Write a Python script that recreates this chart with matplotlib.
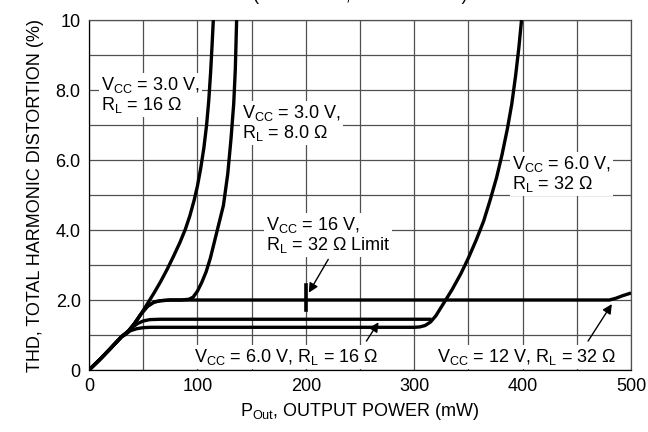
import matplotlib
matplotlib.use("Agg")
import matplotlib.pyplot as plt

plt.rcParams['font.family'] = ['Liberation Sans', 'DejaVu Sans']
plt.rcParams['mathtext.fontset'] = 'custom'
plt.rcParams['mathtext.rm'] = 'Liberation Sans'
plt.rcParams['mathtext.it'] = 'Liberation Sans:italic'

# output power (mW) and THD (%)
v3_r16_x = [0, 10, 20, 30, 36, 42, 48, 54, 60, 66, 72, 78, 84, 89, 93, 97, 100, 103, 106, 108.5,
            110.5, 112.2, 113.5, 114.7]
v3_r16_y = [0, 0.3, 0.62, 0.95, 1.1, 1.32, 1.6, 1.9, 2.2, 2.52, 2.87, 3.25, 3.65, 4.03, 4.4, 4.85,
            5.25, 5.75, 6.35, 7.0, 7.7, 8.5, 9.25, 10.0]

v3_r8_x = [0, 10, 20, 30, 36, 42, 48, 54, 60, 66, 75, 85, 92, 96, 100, 104, 108, 112, 116, 120, 124, 128, 131, 133.5, 135, 136.2]
v3_r8_y = [0, 0.3, 0.62, 0.95, 1.1, 1.33, 1.6, 1.82, 1.94, 1.98, 2.0, 2.0, 2.02, 2.08, 2.25, 2.5, 2.8, 3.2, 3.7, 4.2, 4.7, 5.6, 6.6, 7.6, 8.6, 10.0]

v12_r32_x = [0, 10, 20, 30, 36, 42, 48, 54, 60, 66, 75, 480, 486, 492, 500]
v12_r32_y = [0, 0.3, 0.62, 0.95, 1.1, 1.33, 1.6, 1.82, 1.94, 1.98, 2.0, 2.0, 2.05, 2.12, 2.2]

v6_r16_x = [0, 10, 20, 30, 34, 40, 45, 50, 56, 66, 316]
v6_r16_y = [0, 0.3, 0.62, 0.95, 1.05, 1.22, 1.33, 1.4, 1.44, 1.45, 1.45]

v6_r32_x = [0, 10, 20, 30, 33, 38, 44, 50, 57, 300, 305, 310, 315, 320, 327, 335, 343, 350, 357,
            364, 370, 376, 381, 386, 390, 393.5, 396.5, 399]
v6_r32_y = [0, 0.3, 0.62, 0.95, 1.0, 1.12, 1.18, 1.21, 1.22, 1.22, 1.23, 1.27, 1.37, 1.55, 1.9, 2.3,
            2.75, 3.2, 3.7, 4.25, 4.85, 5.5, 6.15, 6.9, 7.6, 8.4, 9.2, 10.0]

limit_x = [200, 200]
limit_y = [1.71, 2.43]

x_ticks = [0, 100, 200, 300, 400, 500]
y_ticks = [0, 2, 4, 6, 8, 10]
y_tick_labels = ['0', '2.0', '4.0', '6.0', '8.0', '10']

fig = plt.figure(figsize=(6.48, 4.32), dpi=100)
ax = fig.add_axes([0.1373, 0.1435, 0.9738 - 0.1373, 0.9537 - 0.1435])

ax.set_xlim(0, 500)
ax.set_ylim(0, 10)
ax.set_xticks(range(0, 501, 50))
ax.set_yticks(range(0, 11))
ax.grid(True, color='#505050', linewidth=0.9, zorder=1)
ax.set_axisbelow(True)
ax.set_xticklabels([str(v) if v in x_ticks else '' for v in range(0, 501, 50)])
ax.set_yticklabels([y_tick_labels[y_ticks.index(v)] if v in y_ticks else '' for v in range(11)])
ax.tick_params(length=0, labelsize=13, pad=6)
for s in ax.spines.values():
    s.set_color('#505050')
    s.set_linewidth(0.9)
ax.spines['left'].set_color('black')
ax.spines['bottom'].set_color('black')

lw = 2.4
for xs, ys in [(v6_r32_x, v6_r32_y), (v6_r16_x, v6_r16_y), (v12_r32_x, v12_r32_y),
               (v3_r8_x, v3_r8_y), (v3_r16_x, v3_r16_y)]:
    ax.plot(xs, ys, color='black', linewidth=lw, zorder=5, solid_capstyle='butt')
ax.plot(limit_x, limit_y, color='black', linewidth=2.6, zorder=5)

box = dict(facecolor='white', edgecolor='none', pad=1.5)
fs = 13
ax.text(11, 7.85, 'V$_{\\mathregular{CC}}$ = 3.0 V,\nR$_{\\mathregular{L}}$ = 16 \u03a9', fontsize=fs,
        va='center', ha='left', bbox=box, zorder=3, linespacing=1.0)
ax.text(141, 7.05, 'V$_{\\mathregular{CC}}$ = 3.0 V,\nR$_{\\mathregular{L}}$ = 8.0 \u03a9', fontsize=fs,
        va='center', ha='left', bbox=box, zorder=3, linespacing=1.0)
ax.text(163, 3.85, 'V$_{\\mathregular{CC}}$ = 16 V,\nR$_{\\mathregular{L}}$ = 32 \u03a9 Limit', fontsize=fs,
        va='center', ha='left', bbox=box, zorder=3, linespacing=1.0)
ax.text(390, 5.6, 'V$_{\\mathregular{CC}}$ = 6.0 V,\nR$_{\\mathregular{L}}$ = 32 \u03a9', fontsize=fs,
        va='center', ha='left', bbox=box, zorder=3, linespacing=1.0)
ax.text(97, 0.38, 'V$_{\\mathregular{CC}}$ = 6.0 V, R$_{\\mathregular{L}}$ = 16 \u03a9', fontsize=fs,
        va='center', ha='left', bbox=box, zorder=3)
ax.text(321, 0.38, 'V$_{\\mathregular{CC}}$ = 12 V, R$_{\\mathregular{L}}$ = 32 \u03a9', fontsize=fs,
        va='center', ha='left', bbox=box, zorder=3)

arrow = dict(arrowstyle='-|>', color='black', linewidth=1.0, mutation_scale=14)
ax.annotate('', xy=(201.5, 2.14), xytext=(222, 3.23), arrowprops=arrow, zorder=6)
ax.annotate('', xy=(268.5, 1.43), xytext=(254.5, 0.76), arrowprops=arrow, zorder=6)
ax.annotate('', xy=(483.7, 1.95), xytext=(459, 0.76), arrowprops=arrow, zorder=6)

ax.set_xlabel('P$_{\\mathregular{Out}}$, OUTPUT POWER (mW)', fontsize=13, labelpad=4)
ax.set_ylabel('THD, TOTAL HARMONIC DISTORTION (%)', fontsize=13, labelpad=8)

# title sits mostly above the visible area, as in the reference
fig.text(0.556, 1.0, '(f = 1.0 kHz, Gain = 40 dB)', fontsize=13, ha='center', va='baseline')

fig.savefig('out.png', dpi=100)
